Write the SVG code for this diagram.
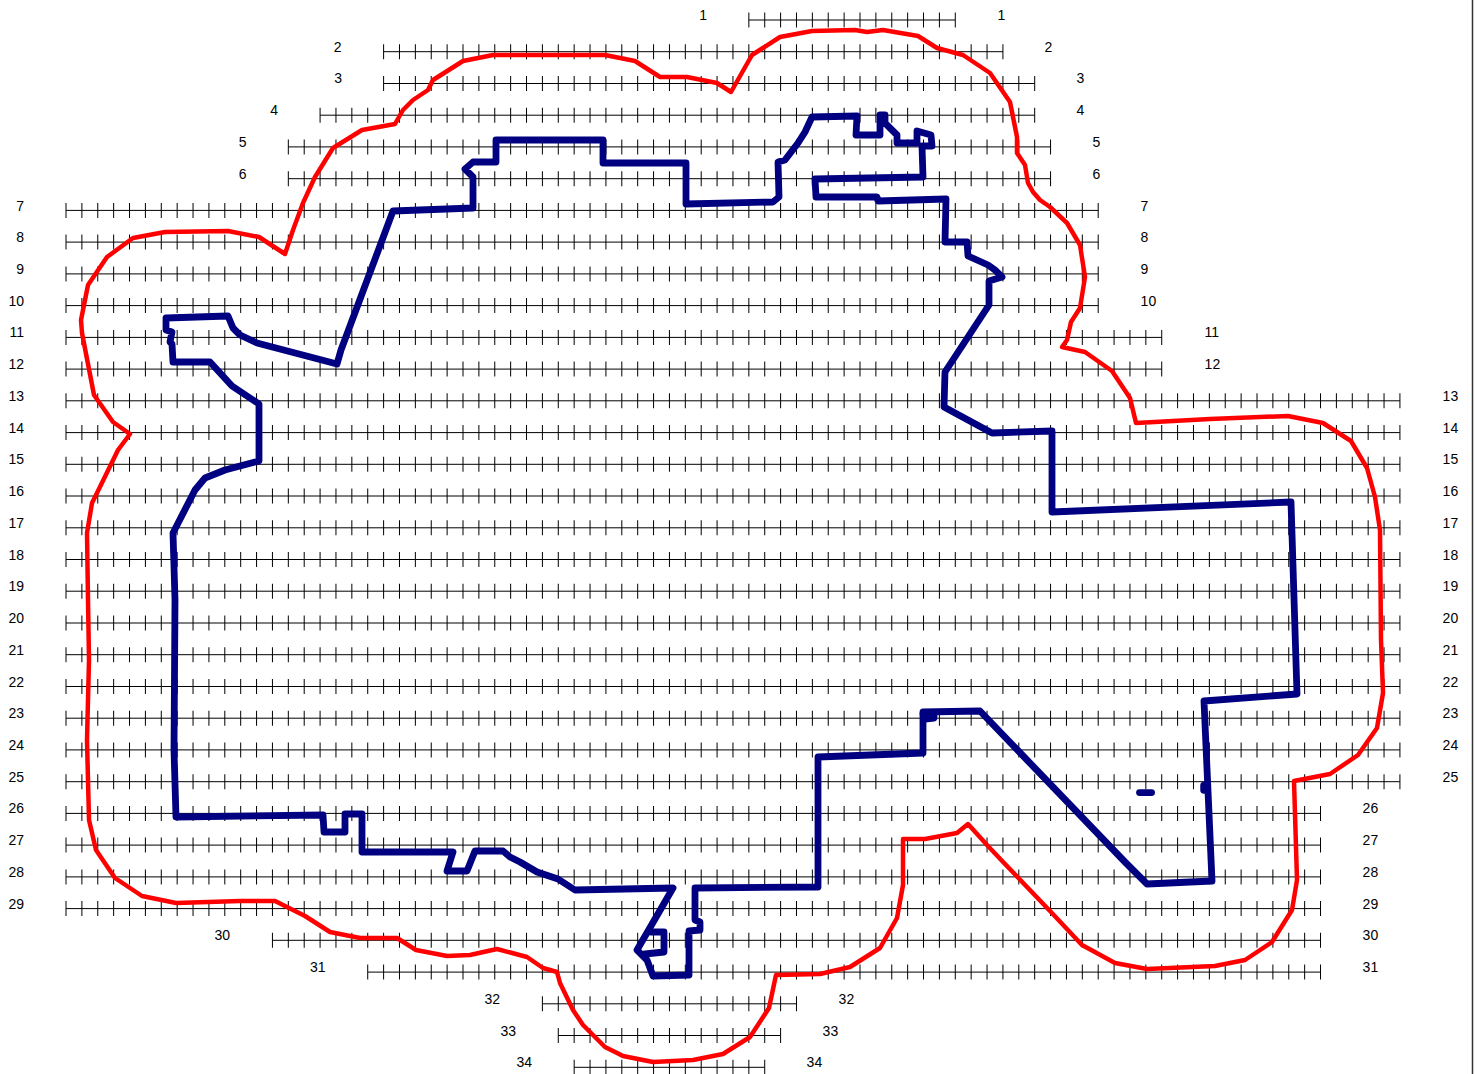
<svg xmlns="http://www.w3.org/2000/svg" width="1478" height="1074" viewBox="0 0 1478 1074">
<style>
.r{stroke:#000;stroke-width:1;fill:none}
.t{stroke:#000;stroke-width:15;stroke-dasharray:1 14.88;fill:none}
text{font-family:"Liberation Sans",Arial,sans-serif;font-size:14px;fill:#000}
.e{text-anchor:end}
.red{fill:none;stroke:#f00;stroke-width:4.5;stroke-linejoin:round;stroke-linecap:round}
.blue{fill:none;stroke:#000080;stroke-width:6.8;stroke-linejoin:round;stroke-linecap:round}
</style>
<rect width="1478" height="1074" fill="#fff"/>
<path d="M1472.5 0V1074" stroke="#333" stroke-width="1.5" fill="none"/>
<g id="grid">
<path class="r" d="M748.84 20H955.28M383.6 51.7H1002.92M383.6 83.5H1034.68M320.08 115.2H1034.68M288.32 146.9H1050.56M288.32 178.7H1050.56M66 210.4H1098.2M66 242.1H1098.2M66 273.9H1098.2M66 305.6H1098.2M66 337.4H1161.72M66 369.1H1161.72M66 400.8H1399.92M66 432.6H1399.92M66 464.3H1399.92M66 496H1399.92M66 527.8H1399.92M66 559.5H1399.92M66 591.2H1399.92M66 623H1399.92M66 654.7H1399.92M66 686.5H1399.92M66 718.2H1399.92M66 749.9H1399.92M66 781.7H1399.92M66 813.4H1320.52M66 845.1H1320.52M66 876.9H1320.52M66 908.6H1320.52M272.44 940.3H1320.52M367.72 972.1H1320.52M542.4 1003.8H796.48M558.28 1035.5H780.6M574.16 1067.3H764.72"/>
<path class="t" d="M748.34 20H955.78"/>
<path class="t" d="M383.1 51.7H1003.42"/>
<path class="t" d="M383.1 83.5H1035.18"/>
<path class="t" d="M319.58 115.2H1035.18"/>
<path class="t" d="M287.82 146.9H1051.06"/>
<path class="t" d="M287.82 178.7H1051.06"/>
<path class="t" d="M65.5 210.4H1098.7"/>
<path class="t" d="M65.5 242.1H1098.7"/>
<path class="t" d="M65.5 273.9H1098.7"/>
<path class="t" d="M65.5 305.6H1098.7"/>
<path class="t" d="M65.5 337.4H1162.22"/>
<path class="t" d="M65.5 369.1H1162.22"/>
<path class="t" d="M65.5 400.8H1400.42"/>
<path class="t" d="M65.5 432.6H1400.42"/>
<path class="t" d="M65.5 464.3H1400.42"/>
<path class="t" d="M65.5 496H1400.42"/>
<path class="t" d="M65.5 527.8H1400.42"/>
<path class="t" d="M65.5 559.5H1400.42"/>
<path class="t" d="M65.5 591.2H1400.42"/>
<path class="t" d="M65.5 623H1400.42"/>
<path class="t" d="M65.5 654.7H1400.42"/>
<path class="t" d="M65.5 686.5H1400.42"/>
<path class="t" d="M65.5 718.2H1400.42"/>
<path class="t" d="M65.5 749.9H1400.42"/>
<path class="t" d="M65.5 781.7H1400.42"/>
<path class="t" d="M65.5 813.4H1321.02"/>
<path class="t" d="M65.5 845.1H1321.02"/>
<path class="t" d="M65.5 876.9H1321.02"/>
<path class="t" d="M65.5 908.6H1321.02"/>
<path class="t" d="M271.94 940.3H1321.02"/>
<path class="t" d="M367.22 972.1H1321.02"/>
<path class="t" d="M541.9 1003.8H796.98"/>
<path class="t" d="M557.78 1035.5H781.1"/>
<path class="t" d="M573.66 1067.3H765.22"/>
</g>
<g id="labels-left">
<text class="e" x="707" y="20">1</text>
<text class="e" x="341.5" y="51.7">2</text>
<text class="e" x="342" y="83">3</text>
<text class="e" x="278" y="115.2">4</text>
<text class="e" x="246.5" y="146.9">5</text>
<text class="e" x="246.5" y="178.7">6</text>
<text class="e" x="24" y="210.7">7</text>
<text class="e" x="24" y="242.1">8</text>
<text class="e" x="24" y="273.9">9</text>
<text class="e" x="24" y="305.6">10</text>
<text class="e" x="24" y="337.4">11</text>
<text class="e" x="24" y="369.1">12</text>
<text class="e" x="24" y="400.8">13</text>
<text class="e" x="24" y="432.6">14</text>
<text class="e" x="24" y="464.3">15</text>
<text class="e" x="24" y="496">16</text>
<text class="e" x="24" y="527.8">17</text>
<text class="e" x="24" y="559.5">18</text>
<text class="e" x="24" y="591.2">19</text>
<text class="e" x="24" y="623">20</text>
<text class="e" x="24" y="654.7">21</text>
<text class="e" x="24" y="686.5">22</text>
<text class="e" x="24" y="718.2">23</text>
<text class="e" x="24" y="749.9">24</text>
<text class="e" x="24" y="781.7">25</text>
<text class="e" x="24" y="813.4">26</text>
<text class="e" x="24" y="845.1">27</text>
<text class="e" x="24" y="876.9">28</text>
<text class="e" x="24" y="908.6">29</text>
<text class="e" x="230" y="940.3">30</text>
<text class="e" x="325.5" y="972.1">31</text>
<text class="e" x="500" y="1003.8">32</text>
<text class="e" x="516" y="1035.5">33</text>
<text class="e" x="532" y="1067.3">34</text>
</g>
<g id="labels-right" transform="translate(0.6 0)">
<text x="997" y="20">1</text>
<text x="1044" y="51.7">2</text>
<text x="1076" y="83">3</text>
<text x="1076" y="115.2">4</text>
<text x="1092" y="146.9">5</text>
<text x="1092" y="178.7">6</text>
<text x="1140" y="210.7">7</text>
<text x="1140" y="242.1">8</text>
<text x="1140" y="273.9">9</text>
<text x="1140" y="305.6">10</text>
<text x="1204" y="337.4">11</text>
<text x="1204" y="369.1">12</text>
<text x="1442" y="400.8">13</text>
<text x="1442" y="432.6">14</text>
<text x="1442" y="464.3">15</text>
<text x="1442" y="496">16</text>
<text x="1442" y="527.8">17</text>
<text x="1442" y="559.5">18</text>
<text x="1442" y="591.2">19</text>
<text x="1442" y="623">20</text>
<text x="1442" y="654.7">21</text>
<text x="1442" y="686.5">22</text>
<text x="1442" y="718.2">23</text>
<text x="1442" y="749.9">24</text>
<text x="1442" y="781.7">25</text>
<text x="1362" y="813.4">26</text>
<text x="1362" y="845.1">27</text>
<text x="1362" y="876.9">28</text>
<text x="1362" y="908.6">29</text>
<text x="1362" y="940.3">30</text>
<text x="1362" y="972.1">31</text>
<text x="838" y="1003.8">32</text>
<text x="822" y="1035.5">33</text>
<text x="806" y="1067.3">34</text>
</g>
<path id="boundary" class="red" d="M285 254L259 237L228 231L165 232L133 238L107 257L88 285L81 320L82 333L94 395L113 422L130 434L118 450L97 493L92 503L87 533L88 600L89 660L87 740L89 820L96 850L115 878L142 896L176 903L240 901L275 901L305 916L330 932L360 938L397 938L416 950L447 956L470 955L497 949L527 957L543 968L557 972L560 983L573 1010L583 1025L605 1047L623 1056L653 1062L693 1060L723 1054L750 1037L769 1008L776 975L820 974L850 967L880 948L897 918L903 885L903 839L925 839L957 833L968 824L987 845L1005 864L1050 911L1082 945L1115 963L1147 969L1215 966L1245 960L1272 942L1292 910L1297 880L1294 781L1330 774L1358 755L1377 728L1383 693L1381 640L1380 530L1375 497L1367 468L1351 441L1323 423L1288 416L1210 419L1136 423L1130 398L1112 371L1085 352L1062 347L1067 340L1071 322L1080 308L1085 277L1080 245L1067 223L1050 207L1040 200L1033 192L1028 183L1025 165L1017 153L1017 137L1010 102L990 73L963 55L937 48L918 36L883 30L867 32L855 30L812 31L780 37L752 55L731 92L717 83L687 77L660 77L635 61L605 55L493 55L463 61L433 80L428 90L413 100L403 110L395 124L362 130L333 148L315 177L303 203L293 230Z"/>
<g id="route">
<path class="blue" d="M173 362L172 344L170 342L172 332L166 330L166 318L228 316L233 328L240 335L257 343L337 364L341 350L393 211L473 208L473 177L465 169L473 162L496 162L496 140L603 140L603 163L686 163L686 204L773 202L779 197L778 162L785 160L798 143L805 132L812 117L857 116L856 135L880 135L880 115L885 115L885 123L897 135L897 143L917 143L917 131L931 135L932 146L922 146L923 177L815 179L816 197L877 197L878 201L946 199L945 242L967 242L968 256L988 265L995 270L1002 277L989 281L989 305L945 372L944 407L992 433L1052 431L1052 512L1291 502L1297 694L1204 701L1212 881L1147 884L1125 862L980 711L923 712L923 753L818 757L818 887L695 888L695 920L700 922L700 930L689 931L689 975L653 976L647 960L637 950L673 888L575 890L558 879L537 872L520 862L510 857L503 851L475 851L467 871L447 871L453 852L362 852L362 814L345 814L345 832L324 832L323 815L176 817L174 750L175 600L173 533L195 490L205 478L225 470L259 461L259 404L232 386L210 362Z"/>
<path class="blue" d="M651 932L664 932L664 952L645 954"/>
<path class="blue" d="M923 714L934 714L934 718L925 719"/>
<path class="blue" d="M1139.5 792.6H1151.6"/>
<path class="blue" d="M1204 785.5V790" style="stroke-width:7.5"/>
</g>
</svg>
